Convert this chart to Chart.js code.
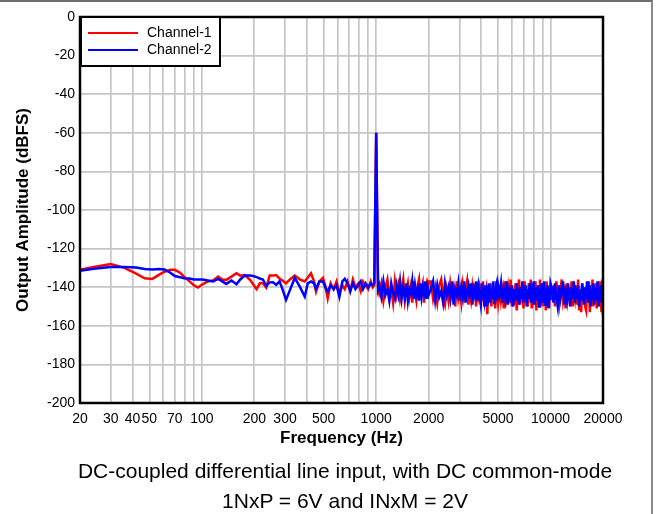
<!DOCTYPE html>
<html>
<head>
<meta charset="utf-8">
<script src="https://cdn.jsdelivr.net/npm/chart.js@4.4.1/dist/chart.umd.min.js"></script>
<style>
  body { margin: 0; background: #fff; }
  #wrap { position: relative; width: 656px; height: 514px; }
  #frame { position: absolute; left: 0; top: 0; width: 653px; height: 514px; box-sizing: border-box;
           border-top: 2px solid #6e6e6e; border-right: 2px solid #8a8a8a; pointer-events: none; }
  .note { position: absolute; left: 0; width: 690px; text-align: center; line-height: 24px;
          font: 21px 'Liberation Sans', Arial, sans-serif; color: #000; }
</style>
</head>
<body>
<div id="wrap">
  <canvas id="fftChart" width="656" height="514"></canvas>
  <div id="frame"></div>
  <div class="note" style="top:459px">DC-coupled differential line input, with DC common-mode</div>
  <div class="note" style="top:489px">1NxP = 6V and INxM = 2V</div>
</div>
<script>
// frequency points (Hz), shared by both channels
const freqHz = [
  20, 24, 30, 36, 42, 47, 52, 57, 61, 66,
  70, 75, 79, 85, 90, 95, 101, 108, 116, 124,
  131, 138, 148, 158, 166, 176, 189, 197, 206, 215,
  224, 234, 245, 256, 267, 279, 290, 304, 320, 341,
  364, 389, 405, 423, 440, 452, 472, 495, 510, 527,
  548, 570, 592, 615, 640, 660, 685, 710, 735, 760,
  790, 815, 840, 870, 900, 930, 955, 975, 1000, 1025,
  // 1040 - 2000
  1040, 1070, 1100, 1130, 1160, 1190, 1220, 1250, 1280, 1310,
  1340, 1370, 1400, 1430, 1460, 1490, 1520, 1550, 1580, 1610,
  1640, 1670, 1700, 1730, 1760, 1790, 1820, 1850, 1880, 1910,
  1940, 1970, 2000,
  // 2060 - 5000
  2060, 2120, 2180, 2240, 2300, 2360, 2420, 2480, 2540, 2600,
  2660, 2720, 2780, 2840, 2900, 2960, 3020, 3080, 3140, 3200,
  3260, 3320, 3380, 3440, 3500, 3560, 3620, 3680, 3740, 3800,
  3860, 3920, 3980, 4040, 4100, 4160, 4220, 4280, 4340, 4400,
  4460, 4520, 4580, 4640, 4700, 4760, 4820, 4880, 4940, 5000,
  // 5100 - 10000
  5100, 5200, 5300, 5400, 5500, 5600, 5700, 5800, 5900, 6000,
  6100, 6200, 6300, 6400, 6500, 6600, 6700, 6800, 6900, 7000,
  7100, 7200, 7300, 7400, 7500, 7600, 7700, 7800, 7900, 8000,
  8100, 8200, 8300, 8400, 8500, 8600, 8700, 8800, 8900, 9000,
  9100, 9200, 9300, 9400, 9500, 9600, 9700, 9800, 9900, 10000,
  // 10200 - 20000
  10200, 10400, 10600, 10800, 11000, 11200, 11400, 11600, 11800, 12000,
  12200, 12400, 12600, 12800, 13000, 13200, 13400, 13600, 13800, 14000,
  14200, 14400, 14600, 14800, 15000, 15200, 15400, 15600, 15800, 16000,
  16200, 16400, 16600, 16800, 17000, 17200, 17400, 17600, 17800, 18000,
  18200, 18400, 18600, 18800, 19000, 19200, 19400, 19600, 19800, 20000
];

// Channel-1 (dBFS)
const channel1 = [
  -131, -129.5, -128, -130, -133, -135.4, -135.7, -133.5, -132, -131,
  -131, -132.5, -134.5, -137, -139, -140.2, -138.5, -137, -136.5, -134.5,
  -136, -136.2, -134.5, -132.8, -134, -133.7, -136.2, -138.5, -141, -138,
  -138, -140.2, -134, -134, -133.7, -135.5, -136.5, -138, -136, -134,
  -135.9, -137, -135, -132.8, -137, -142.3, -137, -135.2, -139, -145.8,
  -138, -141, -137, -143, -139, -141, -137, -142, -136, -140,
  -138, -142, -137, -139, -141, -137, -140, -139, -60, -140,
  // 1040 - 2000
  -143, -138, -147, -140, -136, -145, -141, -148, -137, -144,
  -139, -146, -141, -136, -147, -142, -138, -145, -140, -148,
  -137, -143, -147, -139, -136, -146, -141, -138, -148, -142,
  -139, -146, -137,
  // 2060 - 5000
  -137, -146, -140, -148, -139, -136, -145, -149, -141, -147,
  -138, -144, -140, -150, -137, -146, -142, -148, -139, -145,
  -141, -137, -149, -143, -147, -140, -146, -138, -150, -142,
  -145, -139, -141, -147, -137, -150, -144, -141, -154, -139,
  -147, -143, -150, -138, -145, -141, -151, -137, -144, -148,
  // 5100 - 10000
  -139, -147, -142, -151, -137, -145, -140, -148, -136, -150,
  -143, -146, -138, -152, -141, -136, -149, -144, -139, -151,
  -137, -147, -142, -150, -138, -145, -136, -151, -140, -148,
  -143, -137, -152, -139, -146, -141, -136, -149, -144, -150,
  -138, -147, -141, -152, -137, -145, -140, -151, -139, -146,
  // 10200 - 20000
  -146, -139, -150, -137, -144, -149, -141, -136, -147, -143,
  -151, -138, -145, -140, -148, -137, -150, -142, -146, -139,
  -149, -136, -152, -141, -153, -138, -147, -143, -150, -152,
  -139, -145, -137, -153, -141, -148, -136, -150, -143, -146,
  -138, -151, -140, -148, -137, -150, -142, -153, -136, -155
];

// Channel-2 (dBFS)
const channel2 = [
  -131.5, -130.5, -129.5, -129.5, -129.8, -130.6, -130.8, -130.6, -130.8, -132.5,
  -134.2, -134.8, -135.4, -135.5, -136, -136, -136, -136.5, -137, -135.7,
  -137, -138.3, -136.5, -138.5, -136, -134, -134, -134.2, -134.8, -135.5,
  -136, -139.3, -137.5, -137.4, -138.8, -137, -141, -146.6, -141.5, -135.2,
  -139.6, -144.9, -138, -137, -138, -140.8, -137, -137, -140, -142.3,
  -139, -141, -139, -145, -137, -135.7, -138, -142, -138, -141,
  -139, -137, -141, -138, -140, -138, -139, -138, -60, -141,
  // 1040 - 2000
  -139, -145, -137, -144, -141, -147, -138, -143, -146, -139,
  -144, -137, -146, -140, -145, -138, -147, -141, -143, -137,
  -146, -139, -144, -141, -147, -138, -145, -140, -143, -137,
  -146, -140, -144,
  // 2060 - 5000
  -141, -137, -147, -139, -145, -142, -148, -138, -144, -140,
  -146, -137, -149, -141, -144, -138, -147, -140, -145, -137,
  -148, -142, -139, -146, -138, -149, -141, -144, -137, -147,
  -140, -145, -149, -138, -143, -147, -139, -150, -142, -145,
  -138, -148, -141, -146, -137, -149, -143, -140, -147, -139,
  // 5100 - 10000
  -144, -138, -148, -141, -146, -137, -149, -142, -145, -139,
  -150, -141, -147, -138, -144, -149, -140, -146, -137, -148,
  -143, -139, -150, -141, -146, -138, -148, -142, -145, -137,
  -149, -140, -147, -143, -139, -150, -141, -146, -138, -148,
  -144, -137, -149, -142, -145, -139, -150, -141, -147, -138,
  // 10200 - 20000
  -141, -148, -138, -145, -150, -139, -146, -142, -137, -149,
  -143, -147, -138, -145, -150, -140, -146, -137, -148, -142,
  -144, -139, -150, -141, -147, -138, -145, -149, -140, -146,
  -137, -148, -143, -139, -150, -141, -146, -138, -149, -144,
  -140, -147, -137, -150, -142, -145, -139, -148, -141, -144
];

// vertical grid lines and which of them carry a label
const gridFreqs = [20, 30, 40, 50, 60, 70, 80, 90, 100, 200, 300, 400, 500, 600, 700, 800, 900,
  1000, 2000, 3000, 4000, 5000, 6000, 7000, 8000, 9000, 10000, 20000];
const xTickLabels = [20, 30, 40, 50, 70, 100, 200, 300, 500, 1000, 2000, 5000, 10000, 20000];

const FONT = "'Liberation Sans', Arial, sans-serif";

// black frame round the plot + boxed legend in the top-left corner
const frameAndLegend = {
  id: 'frameAndLegend',
  afterDraw(chart) {
    const { ctx, chartArea: a } = chart;
    ctx.save();
    ctx.strokeStyle = '#000';
    ctx.lineWidth = 2.5;
    ctx.strokeRect(a.left, a.top, a.right - a.left, a.bottom - a.top);

    const bx = a.left + 1, by = a.top, bw = 139, bh = 49;
    ctx.fillStyle = '#fff';
    ctx.fillRect(bx, by, bw, bh);
    ctx.lineWidth = 2;
    ctx.strokeRect(bx, by, bw, bh);
    ctx.font = '14px ' + FONT;
    ctx.textBaseline = 'middle';
    chart.data.datasets.forEach((ds, i) => {
      const y = by + 16 + i * 17;
      ctx.strokeStyle = ds.borderColor;
      ctx.lineWidth = 2;
      ctx.beginPath();
      ctx.moveTo(bx + 7, y);
      ctx.lineTo(bx + 57, y);
      ctx.stroke();
      ctx.fillStyle = '#000';
      ctx.fillText(ds.label, bx + 66, y);
    });
    ctx.restore();
  }
};

const ctx = document.getElementById('fftChart').getContext('2d');
new Chart(ctx, {
  type: 'line',
  data: {
    datasets: [
      {
        label: 'Channel-1',
        data: freqHz.map((f, i) => ({ x: f, y: channel1[i] })),
        borderColor: '#ff0000',
        borderWidth: 2.5,
        pointRadius: 0,
        tension: 0,
        order: 1
      },
      {
        label: 'Channel-2',
        data: freqHz.map((f, i) => ({ x: f, y: channel2[i] })),
        borderColor: '#0000ff',
        borderWidth: 2.5,
        pointRadius: 0,
        tension: 0,
        order: 0 // drawn on top
      }
    ]
  },
  options: {
    responsive: false,
    animation: false,
    layout: { padding: { left: 0, right: 53, top: 17, bottom: 61 } },
    plugins: {
      legend: { display: false },
      tooltip: { enabled: false }
    },
    scales: {
      x: {
        type: 'logarithmic',
        min: 20,
        max: 20000,
        afterBuildTicks: (scale) => { scale.ticks = gridFreqs.map(v => ({ value: v })); },
        afterFit: (scale) => { scale.height = 50; },
        ticks: {
          autoSkip: false,
          maxRotation: 0,
          padding: 8,
          color: '#000',
          font: { family: FONT, size: 14 },
          callback: (value) => xTickLabels.includes(value) ? String(value) : ''
        },
        grid: { color: '#c6c6c6', lineWidth: 1.7, drawTicks: false },
        border: { display: false },
        title: {
          display: true,
          text: 'Frequency (Hz)',
          color: '#000',
          font: { family: FONT, size: 17, weight: 'bold' },
          padding: { top: 0, bottom: 4 }
        }
      },
      y: {
        min: -200,
        max: 0,
        afterFit: (scale) => { scale.width = 80; },
        ticks: {
          stepSize: 20,
          padding: 5,
          color: '#000',
          font: { family: FONT, size: 14 }
        },
        grid: { color: '#c6c6c6', lineWidth: 1.7, drawTicks: false },
        border: { display: false },
        title: {
          display: true,
          text: 'Output Amplitude (dBFS)',
          color: '#000',
          font: { family: FONT, size: 17, weight: 'bold' },
          padding: { top: 13, bottom: 0 }
        }
      }
    }
  },
  plugins: [frameAndLegend]
});
</script>
</body>
</html>
